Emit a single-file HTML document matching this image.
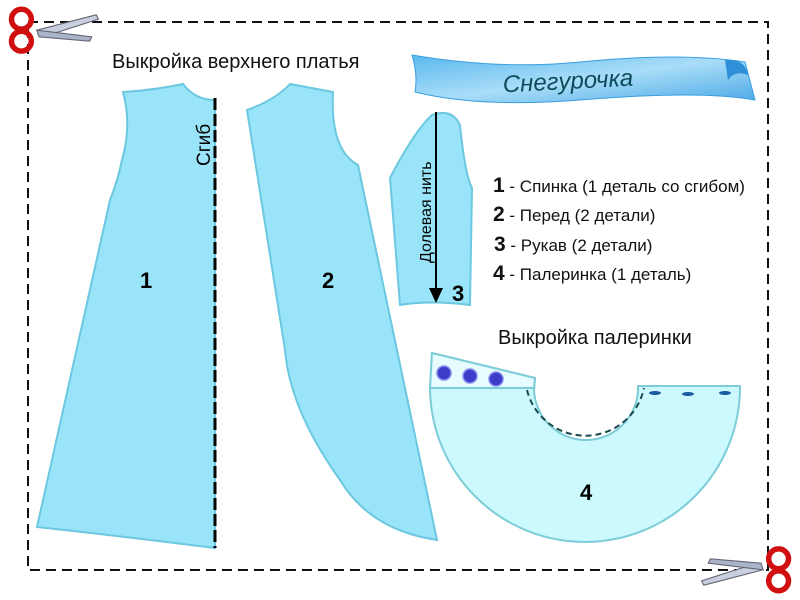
<!DOCTYPE html>
<html><head><meta charset="utf-8"><style>
html,body{margin:0;padding:0;background:#fff}
svg{display:block}
text{font-family:"Liberation Sans",sans-serif}
</style></head><body>
<svg width="800" height="600" viewBox="0 0 800 600">
<defs>
<linearGradient id="rb" x1="0" y1="0" x2="1" y2="1">
<stop offset="0" stop-color="#5ab8ee"/><stop offset="0.5" stop-color="#a9ddf8"/><stop offset="1" stop-color="#4aa8e6"/>
</linearGradient>
</defs>
<rect x="28" y="22" width="740" height="548" fill="none" stroke="#111" stroke-width="2" stroke-dasharray="10,6"/>

<!-- piece 1 -->
<path d="M123,92 Q155,90 183,84 Q195,100 215,100 L215,548 Q120,536 37,527 L110,200 Q118,180 122,160 Q132,125 123,92 Z" fill="#99e4f8" stroke="#6cc8e0" stroke-width="2"/>
<line x1="215" y1="98" x2="215" y2="548" stroke="#000" stroke-width="3" stroke-dasharray="12,4"/>
<text transform="translate(210,166) rotate(-90)" font-size="19" fill="#000">Сгиб</text>
<text x="140" y="288" font-size="22" font-weight="bold">1</text>

<!-- piece 2 -->
<path d="M247,110 Q275,100 290,84 Q312,88 333,92 Q330,150 358,165 L437,540 Q370,530 340,480 Q290,410 285,350 Z" fill="#99e4f8" stroke="#6cc8e0" stroke-width="2"/>
<text x="322" y="288" font-size="22" font-weight="bold">2</text>

<!-- sleeve -->
<path d="M390,178 Q415,130 432,115 Q452,108 460,125 Q465,175 472,188 L470,305 Q430,300 400,305 Z" fill="#99e4f8" stroke="#6cc8e0" stroke-width="2"/>
<line x1="436" y1="112" x2="436" y2="290" stroke="#000" stroke-width="2"/>
<polygon points="429,288 443,288 436,303" fill="#000"/>
<text transform="translate(431,263) rotate(-90)" font-size="16" fill="#000">Долевая нить</text>
<text x="452" y="301" font-size="22" font-weight="bold">3</text>

<!-- legend -->
<g font-size="17" fill="#111">
<text x="493" y="192"><tspan font-weight="bold" font-size="21">1</tspan> - Спинка (1 деталь со сгибом)</text>
<text x="493" y="221"><tspan font-weight="bold" font-size="21">2</tspan> - Перед (2 детали)</text>
<text x="494" y="251"><tspan font-weight="bold" font-size="21">3</tspan> - Рукав (2 детали)</text>
<text x="493" y="280"><tspan font-weight="bold" font-size="21">4</tspan> - Палеринка (1 деталь)</text>
</g>

<text x="112" y="68" font-size="20" fill="#111">Выкройка верхнего платья</text>
<text x="498" y="344" font-size="20" fill="#111">Выкройка палеринки</text>

<!-- capelet -->
<path d="M432,353 L535,378 L534,390 A52,52 0 0 0 638,386 L740,386 A155,155 0 0 1 430,388 Z" fill="#ccf9fd" stroke="#7dcdd8" stroke-width="2"/>
<path d="M432,353 L535,378 L534,388 L430,388 Z" fill="#e6fcff" stroke="#7dcdd8" stroke-width="2"/>
<path d="M527,390 A60,60 0 0 0 644,388" fill="none" stroke="#1a4a50" stroke-width="2" stroke-dasharray="6,4"/>
<g fill="#3c3cc8" stroke="#8888ee" stroke-width="1.5">
<circle cx="444" cy="373" r="7"/><circle cx="470" cy="376" r="7"/><circle cx="496" cy="379" r="7"/>
</g>
<g fill="#1a5aa0"><ellipse cx="655" cy="393" rx="6" ry="2"/><ellipse cx="688" cy="394" rx="6" ry="2"/><ellipse cx="725" cy="393" rx="6" ry="2"/></g>
<text x="580" y="500" font-size="22" font-weight="bold">4</text>

<!-- ribbon -->
<path d="M412,55 Q500,70 580,62 Q680,52 745,62 L755,100 Q700,90 580,100 Q480,108 415,92 Q418,75 412,55 Z" fill="url(#rb)" stroke="#3a9ee0" stroke-width="1"/>
<path d="M725,60 Q745,58 748,75 Q735,70 728,80 Z" fill="#2f8fd8"/>
<text x="568" y="89" font-size="24" font-style="italic" fill="#0d4a5a" text-anchor="middle" font-family="Liberation Serif,serif" transform="rotate(-3 568 82)">Снегурочка</text>

<!-- scissors top-left -->
<g transform="translate(6,6) scale(1.1)">
<path d="M28,22 L82,8 L84,12 L34,28 Z" fill="#c8d0e0" stroke="#667" stroke-width="1"/>
<path d="M28,22 L78,28 L76,32 L30,28 Z" fill="#aab4c8" stroke="#667" stroke-width="1"/>
<circle cx="14" cy="12" r="9" fill="none" stroke="#d01010" stroke-width="5"/>
<circle cx="14" cy="32" r="9" fill="none" stroke="#d01010" stroke-width="5"/>
</g>
<!-- scissors bottom-right -->
<g transform="translate(794,594) rotate(180) scale(1.1)">
<path d="M28,22 L82,8 L84,12 L34,28 Z" fill="#c8d0e0" stroke="#667" stroke-width="1"/>
<path d="M28,22 L78,28 L76,32 L30,28 Z" fill="#aab4c8" stroke="#667" stroke-width="1"/>
<circle cx="14" cy="12" r="9" fill="none" stroke="#d01010" stroke-width="5"/>
<circle cx="14" cy="32" r="9" fill="none" stroke="#d01010" stroke-width="5"/>
</g>
</svg>
</body></html>
